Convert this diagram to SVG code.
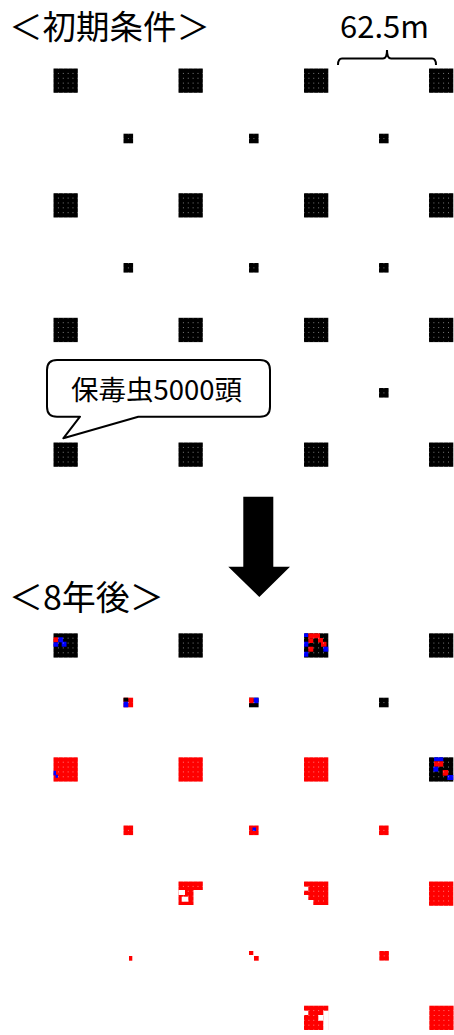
<svg xmlns="http://www.w3.org/2000/svg" width="454" height="1035" viewBox="0 0 454 1035">
<style>
.k{fill:#000}.r{fill:#f00}.b{fill:#00f}.w{fill:#fff}
.d{fill:url(#dots)}
.t{font-family:"Noto Sans CJK JP","Noto Sans",sans-serif;fill:#000}
.ln{fill:none;stroke:#000;stroke-width:2}
</style>
<defs>
<pattern id="dots" patternUnits="userSpaceOnUse" x="-0.45" y="-0.45" width="4.86" height="4.86">
<rect x="0" y="0" width="0.9" height="0.9" fill="#fff" fill-opacity="0.6"/>
</pattern>
</defs>
<rect width="454" height="1035" fill="#fff"/>

<text class="t" x="9" y="39" font-size="33.5">＜初期条件＞</text>
<text class="t" x="340" y="38" font-size="31">62.5m</text>
<g id="connectors">
<path class="ln" d="M338,65 Q338,58.5 342,58.5 L383,58.5 Q387,58.5 387,50 Q387,58.5 391,58.5 L432,58.5 Q436,58.5 436,65"/>
<path d="M243.3,496.7 H273.3 V566.7 H290 L259.3,597 L228.3,566.7 H243.3 Z" fill="#000"/>
</g>

<g id="init-large">
<g transform="translate(53.5,68.5)"><rect class="k" width="24.3" height="24.3"/><rect class="d" width="24.3" height="24.3"/></g>
<g transform="translate(178.5,68.5)"><rect class="k" width="24.3" height="24.3"/><rect class="d" width="24.3" height="24.3"/></g>
<g transform="translate(304,68.5)"><rect class="k" width="24.3" height="24.3"/><rect class="d" width="24.3" height="24.3"/></g>
<g transform="translate(429,68.5)"><rect class="k" width="24.3" height="24.3"/><rect class="d" width="24.3" height="24.3"/></g>
<g transform="translate(53.5,193.2)"><rect class="k" width="24.3" height="24.3"/><rect class="d" width="24.3" height="24.3"/></g>
<g transform="translate(178.5,193.2)"><rect class="k" width="24.3" height="24.3"/><rect class="d" width="24.3" height="24.3"/></g>
<g transform="translate(304,193.2)"><rect class="k" width="24.3" height="24.3"/><rect class="d" width="24.3" height="24.3"/></g>
<g transform="translate(429,193.2)"><rect class="k" width="24.3" height="24.3"/><rect class="d" width="24.3" height="24.3"/></g>
<g transform="translate(53.5,317.8)"><rect class="k" width="24.3" height="24.3"/><rect class="d" width="24.3" height="24.3"/></g>
<g transform="translate(178.5,317.8)"><rect class="k" width="24.3" height="24.3"/><rect class="d" width="24.3" height="24.3"/></g>
<g transform="translate(304,317.8)"><rect class="k" width="24.3" height="24.3"/><rect class="d" width="24.3" height="24.3"/></g>
<g transform="translate(429,317.8)"><rect class="k" width="24.3" height="24.3"/><rect class="d" width="24.3" height="24.3"/></g>
<g transform="translate(53.5,442.5)"><rect class="k" width="24.3" height="24.3"/><rect class="d" width="24.3" height="24.3"/></g>
<g transform="translate(178.5,442.5)"><rect class="k" width="24.3" height="24.3"/><rect class="d" width="24.3" height="24.3"/></g>
<g transform="translate(304,442.5)"><rect class="k" width="24.3" height="24.3"/><rect class="d" width="24.3" height="24.3"/></g>
<g transform="translate(429,442.5)"><rect class="k" width="24.3" height="24.3"/><rect class="d" width="24.3" height="24.3"/></g>
</g>
<g id="init-small">
<g transform="translate(123.5,133.7)"><rect class="k" width="9.6" height="9.6"/><rect class="d" width="9.6" height="9.6"/></g>
<g transform="translate(249,133.7)"><rect class="k" width="9.6" height="9.6"/><rect class="d" width="9.6" height="9.6"/></g>
<g transform="translate(379,133.7)"><rect class="k" width="9.6" height="9.6"/><rect class="d" width="9.6" height="9.6"/></g>
<g transform="translate(123.5,263)"><rect class="k" width="9.6" height="9.6"/><rect class="d" width="9.6" height="9.6"/></g>
<g transform="translate(249,263)"><rect class="k" width="9.6" height="9.6"/><rect class="d" width="9.6" height="9.6"/></g>
<g transform="translate(379,263)"><rect class="k" width="9.6" height="9.6"/><rect class="d" width="9.6" height="9.6"/></g>
<g transform="translate(379,388)"><rect class="k" width="9.6" height="9.6"/><rect class="d" width="9.6" height="9.6"/></g>
</g>

<g id="callout">
<path d="M57,360 H260 Q270,360 270,370 V406.7 Q270,416.7 260,416.7 H138.3 L63.3,438.3 L80,416.7 H57 Q47,416.7 47,406.7 V370 Q47,360 57,360 Z" fill="#fff" stroke="#000" stroke-width="2" stroke-linejoin="round"/>
<text class="t" x="71" y="399.5" font-size="27.5">保毒虫5000頭</text>
</g>

<text class="t" x="9" y="610" font-size="34">＜8年後＞</text>

<g id="after-row1">
<g transform="translate(53.5,633.3)"><rect class="k" width="24.3" height="24.3"/><rect class="r" x="0" y="4" width="4.8" height="5"/><rect class="b" x="4.8" y="4" width="4.8" height="5"/><rect class="b" x="0" y="9" width="4.8" height="4.4"/><rect class="b" x="8.2" y="8.4" width="4.8" height="5"/><rect class="d" width="24.3" height="24.3"/></g>
<g transform="translate(178.5,633.3)"><rect class="k" width="24.3" height="24.3"/><rect class="d" width="24.3" height="24.3"/></g>
<g transform="translate(304,633.3)"><rect class="k" width="24.3" height="24.3"/><rect class="b" x="0" y="0" width="4.3" height="3.7"/><rect class="r" x="4.3" y="0" width="11.7" height="5"/><rect class="r" x="4.3" y="5" width="5" height="4.7"/><rect class="r" x="14" y="4.7" width="5" height="4.5"/><rect class="r" x="17" y="8.5" width="5.5" height="5"/><rect class="b" x="0" y="8.4" width="4.3" height="5"/><rect class="r" x="4.3" y="13.4" width="5" height="5"/><rect class="b" x="19.3" y="13.4" width="5" height="5"/><rect class="b" x="0" y="18.4" width="4.3" height="5"/><rect class="d" width="24.3" height="24.3"/></g>
<g transform="translate(429,633.3)"><rect class="k" width="24.3" height="24.3"/><rect class="d" width="24.3" height="24.3"/></g>
</g>
<g id="after-row2">
<g transform="translate(123.5,697.7)"><rect class="r" width="9.6" height="9.6"/><rect class="k" width="4.8" height="4"/><rect class="b" y="4" width="4.8" height="5.6"/><rect class="d" width="9.6" height="9.6"/></g>
<g transform="translate(249,697.7)"><rect class="k" width="9.6" height="9.6"/><rect class="r" width="4.8" height="5.5"/><rect class="b" x="4.8" width="4.8" height="5.5"/><rect class="d" width="9.6" height="9.6"/></g>
<g transform="translate(379,697.7)"><rect class="k" width="9.6" height="9.6"/><rect class="d" width="9.6" height="9.6"/></g>
</g>
<g id="after-row3">
<g transform="translate(53.5,757.3)"><rect class="r" width="24.3" height="24.3"/><rect class="b" x="0" y="13.5" width="2.5" height="4.5"/><rect class="b" x="2" y="17.5" width="2.5" height="3"/><rect class="d" width="24.3" height="24.3"/></g>
<g transform="translate(178.5,757.3)"><rect class="r" width="24.3" height="24.3"/><rect class="d" width="24.3" height="24.3"/></g>
<g transform="translate(304,757.3)"><rect class="r" width="24.3" height="24.3"/><rect class="d" width="24.3" height="24.3"/></g>
<g transform="translate(429,757.3)"><rect class="k" width="24.3" height="24.3"/><rect class="b" x="5" y="0" width="9.3" height="4"/><rect class="r" x="5" y="4" width="9.3" height="5.4"/><rect class="b" x="4.3" y="9.4" width="5" height="5"/><rect class="r" x="13.7" y="12.7" width="5.6" height="5.7"/><rect class="b" x="18.3" y="17.7" width="6" height="5"/><rect class="d" width="24.3" height="24.3"/></g>
</g>
<g id="after-row4">
<g transform="translate(123.5,825.5)"><rect class="r" width="9.6" height="9.6"/><rect class="d" width="9.6" height="9.6"/></g>
<g transform="translate(249,825.5)"><rect class="r" width="9.6" height="9.6"/><rect class="b" x="3.5" y="2" width="3.5" height="3.5"/><rect class="d" width="9.6" height="9.6"/></g>
<g transform="translate(379,825.5)"><rect class="r" width="9.6" height="9.6"/><rect class="d" width="9.6" height="9.6"/></g>
</g>
<g id="after-row5">
<g transform="translate(178.5,881.5)"><rect class="r" width="24.3" height="23.5"/><rect class="d" width="24.3" height="23.5"/><rect class="w" x="15" y="8.5" width="9.5" height="16"/><rect class="w" x="0" y="8.5" width="6.5" height="5"/><rect class="w" x="3.2" y="15.2" width="6.6" height="5"/></g>
<g transform="translate(304,881.5)"><rect class="r" width="24.3" height="23.5"/><rect class="d" width="24.3" height="23.5"/><rect class="w" x="0" y="5.2" width="4.3" height="4"/><rect class="w" x="0" y="13.5" width="4.3" height="5"/><rect class="w" x="0" y="18.5" width="9.3" height="5.5"/></g>
<g transform="translate(429,881.5)"><rect class="r" width="24.3" height="24.3"/><rect class="d" width="24.3" height="24.3"/></g>
</g>
<g id="after-row6">
<rect class="r" x="129" y="956" width="3.3" height="4.7"/>
<rect class="r" x="249" y="951" width="4.3" height="4"/>
<rect class="r" x="254" y="956" width="4.7" height="4.7"/>
<g transform="translate(379.3,951)"><rect class="r" width="9.6" height="9.6"/><rect class="d" width="9.6" height="9.6"/></g>
</g>
<g id="after-row7">
<g transform="translate(304,1005.7)"><rect class="r" width="24.3" height="24.3"/><rect class="d" width="24.3" height="24.3"/><rect class="w" x="19.3" y="5" width="5.5" height="19.8"/><rect class="w" x="0" y="5" width="4.3" height="4.3"/><rect class="w" x="14.3" y="9.3" width="5" height="5.7"/></g>
<g transform="translate(429.3,1005.7)"><rect class="r" width="24.3" height="24.3"/><rect class="d" width="24.3" height="24.3"/></g>
</g>
</svg>
